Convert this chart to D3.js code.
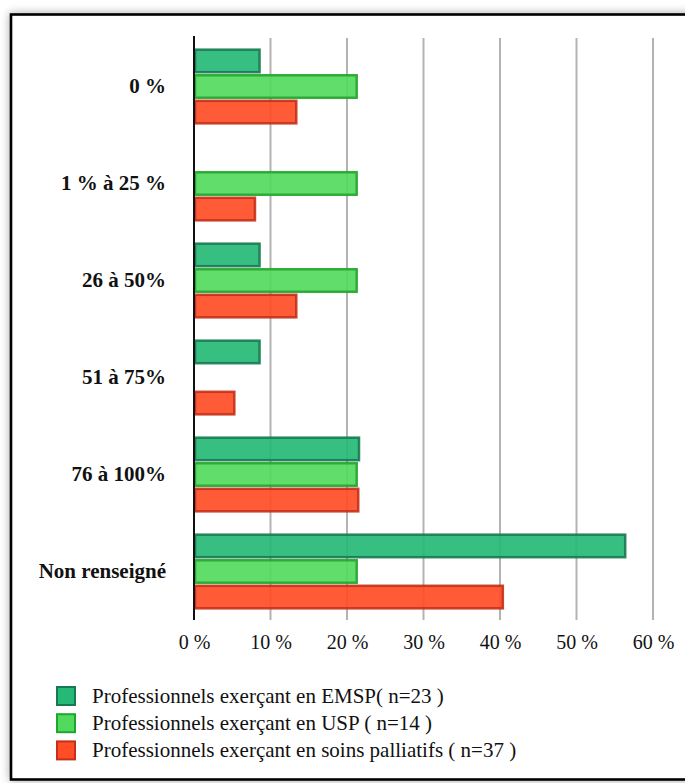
<!DOCTYPE html>
<html>
<head>
<meta charset="utf-8">
<script src="https://cdn.jsdelivr.net/npm/d3@7/dist/d3.min.js"></script>
<style>
  html, body { margin: 0; padding: 0; background: #ffffff; }
  svg { display: block; }
</style>
</head>
<body>
<svg id="chart" width="685" height="783"></svg>
<script>
// Répartition par tranche (% du temps) pour trois groupes de professionnels
const categories = ["0 %", "1 % à 25 %", "26 à 50%", "51 à 75%", "76 à 100%", "Non renseigné"];
const emsp = [8.7, 0, 8.7, 8.7, 21.7, 56.5];
const usp = [21.4, 21.4, 21.4, 0, 21.4, 21.4];
const soinsPalliatifs = [13.5, 8.1, 13.5, 5.4, 21.6, 40.5];
const seriesNames = [
  "Professionnels exerçant en EMSP( n=23 )",
  "Professionnels exerçant en USP ( n=14 )",
  "Professionnels exerçant en soins palliatifs ( n=37 )"
];
const tickValues = [0, 10, 20, 30, 40, 50, 60];
const tickLabels = ["0 %", "10 %", "20 %", "30 %", "40 %", "50 %", "60 %"];

const fills = ["#26b876", "#52da5e", "#ff4d26"];
const strokes = ["#167a50", "#22a52c", "#c4301a"];
const FONT = "'Liberation Serif', 'Times New Roman', Times, 'DejaVu Serif', serif";

const series = [emsp, usp, soinsPalliatifs];
const rows = categories.map((c, i) => ({ cat: c, values: series.map(s => s[i]) }));

const svg = d3.select("#chart").style("font-family", FONT);

// cadre avec ombre portée
const defs = svg.append("defs");
const f = defs.append("filter").attr("id", "shadow")
  .attr("x", "-5%").attr("y", "-5%").attr("width", "110%").attr("height", "110%");
f.append("feGaussianBlur").attr("in", "SourceAlpha").attr("stdDeviation", 5);
f.append("feOffset").attr("dx", 0).attr("dy", 0).attr("result", "blur");
f.append("feComponentTransfer").append("feFuncA").attr("type", "linear").attr("slope", 0.35);
const m = f.append("feMerge");
m.append("feMergeNode");
m.append("feMergeNode").attr("in", "SourceGraphic");

svg.append("rect")
  .attr("x", 11).attr("y", 14.5).attr("width", 690).attr("height", 765)
  .attr("fill", "#fff").attr("stroke", "#000").attr("stroke-width", 2.6)
  .attr("filter", "url(#shadow)");

const plot = { left: 194, right: 653, top: 38, bottom: 620 };

const x = d3.scaleLinear().domain([0, 60]).range([plot.left, plot.right]);
const y0 = d3.scaleBand().domain(categories).range([plot.top, plot.bottom]).paddingInner(0.22).paddingOuter(0.11);
const y1 = d3.scaleBand().domain(d3.range(3)).range([0, y0.bandwidth()]).paddingInner(0.04);

// grille verticale
svg.append("g").selectAll("line")
  .data(tickValues.slice(1))
  .join("line")
  .attr("x1", d => x(d)).attr("x2", d => x(d))
  .attr("y1", plot.top).attr("y2", plot.bottom)
  .attr("stroke", "#b3b3b3").attr("stroke-width", 2);

// barres
const groups = svg.append("g").selectAll("g")
  .data(rows)
  .join("g")
  .attr("transform", d => `translate(0,${y0(d.cat)})`);

groups.selectAll("rect")
  .data(d => d.values.map((v, k) => ({ v, k })).filter(e => e.v > 0))
  .join("rect")
  .attr("x", x(0) + 1)
  .attr("y", d => y1(d.k) + 1)
  .attr("width", d => x(d.v) - x(0) - 2)
  .attr("height", y1.bandwidth() - 2)
  .attr("fill", d => fills[d.k])
  .attr("fill-opacity", 0.92)
  .attr("stroke", d => strokes[d.k])
  .attr("stroke-opacity", 0.9)
  .attr("stroke-width", 2.5);

// axe vertical
svg.append("line")
  .attr("x1", plot.left).attr("x2", plot.left)
  .attr("y1", plot.top - 2).attr("y2", plot.bottom)
  .attr("stroke", "#111").attr("stroke-width", 2);

// étiquettes des catégories
svg.append("g").selectAll("text")
  .data(categories)
  .join("text")
  .attr("x", 166)
  .attr("y", d => y0(d) + y0.bandwidth() / 2)
  .attr("dy", "0.33em")
  .attr("text-anchor", "end")
  .attr("font-family", FONT)
  .attr("font-size", 21)
  .attr("font-weight", "bold")
  .attr("fill", "#111")
  .text(d => d);

// axe horizontal
const xAxis = d3.axisBottom(x)
  .tickValues(tickValues)
  .tickFormat((d, i) => tickLabels[i])
  .tickSize(0)
  .tickPadding(15);
const ax = svg.append("g")
  .attr("transform", `translate(0,${plot.bottom})`)
  .call(xAxis)
  .attr("font-family", FONT)
  .attr("font-size", 20);
ax.select(".domain").remove();
ax.selectAll("text")
  .attr("font-family", FONT)
  .attr("font-size", 20)
  .attr("fill", "#111");

// légende
const legend = svg.append("g").attr("transform", "translate(57,687)");
const li = legend.selectAll("g")
  .data(seriesNames)
  .join("g")
  .attr("transform", (d, i) => `translate(0,${i * 27.2})`);
li.append("rect")
  .attr("width", 18).attr("height", 18)
  .attr("fill", (d, i) => fills[i])
  .attr("stroke", (d, i) => strokes[i])
  .attr("stroke-width", 2);
li.append("text")
  .attr("x", 35).attr("y", 9)
  .attr("dy", "0.33em")
  .attr("font-family", FONT)
  .attr("font-size", 21)
  .attr("fill", "#111")
  .text(d => d);
</script>
</body>
</html>
